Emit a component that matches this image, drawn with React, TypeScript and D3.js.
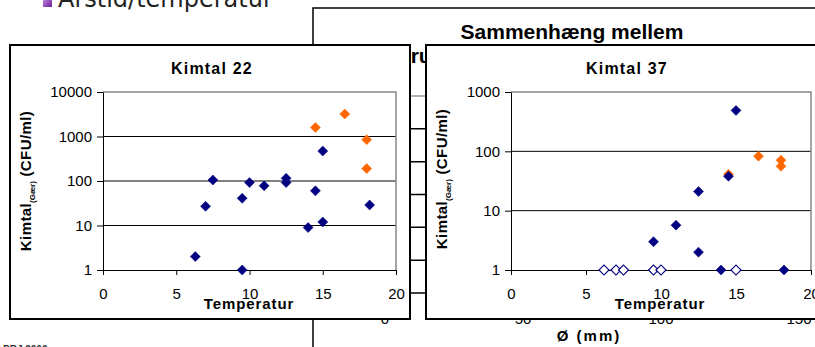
import React, { useEffect, useRef } from 'react';
import * as d3 from 'd3';

// Kimtal 22 (left chart)
const k22BlueTemp = [6.3, 7, 7.5, 9.5, 9.5, 10, 11, 12.5, 12.5, 14, 14.5, 15, 15, 18.2];
const k22BlueCfu = [2, 27, 105, 41, 1, 92, 78, 115, 92, 9, 60, 470, 12, 29];
const k22OrangeTemp = [14.5, 16.5, 18, 18];
const k22OrangeCfu = [1600, 3200, 850, 190];

// Kimtal 37 (right chart)
const k37OpenTemp = [6.2, 7, 7.5, 9.5, 10, 15];
const k37OpenCfu = [1, 1, 1, 1, 1, 1];
const k37OrangeTemp = [14.5, 16.5, 18, 18];
const k37OrangeCfu = [41, 83, 71, 56];
const k37BlueTemp = [9.5, 11, 12.5, 12.5, 14, 14.5, 15, 18.2];
const k37BlueCfu = [3, 5.7, 2, 21, 1, 38, 490, 1];

const tempTicks = [0, 5, 10, 15, 20];
const k22Ticks = [1, 10, 100, 1000, 10000];
const k37Ticks = [1, 10, 100, 1000];

// chart lying behind the two front charts
const bgXTicks = [0, 50, 100, 150];
const bgGrid = [0, 1, 2, 3, 4, 5, 6];

const NAVY = '#000080';
const ORANGE = '#ff6600';
const FONT = '"Liberation Sans", Arial, sans-serif';

interface Series { xs: number[]; ys: number[]; fill: string; }

const App: React.FC = () => {
  const svgRef = useRef<SVGSVGElement>(null);

  useEffect(() => {
    if (!svgRef.current) return;
    const svg = d3.select(svgRef.current);
    svg.selectAll('*').remove();

    const defs = svg.append('defs');
    const grad = defs.append('linearGradient').attr('id', 'bullet').attr('x1', 0).attr('y1', 0).attr('x2', 1).attr('y2', 1);
    grad.append('stop').attr('offset', '0%').attr('stop-color', '#c58ee0');
    grad.append('stop').attr('offset', '100%').attr('stop-color', '#6a1b9a');

    // slide heading, cut at the top
    svg.append('rect').attr('x', 43).attr('y', -2).attr('width', 9).attr('height', 9).attr('fill', 'url(#bullet)');
    svg.append('text')
      .attr('x', 58).attr('y', 7)
      .attr('font-family', '"DejaVu Sans", Verdana, sans-serif')
      .attr('font-size', 24).attr('fill', '#222')
      .text('Årstid/temperatur');

    // background chart
    svg.append('rect').attr('x', 313).attr('y', 8).attr('width', 540).attr('height', 360)
      .attr('fill', '#fff').attr('stroke', '#000').attr('stroke-width', 1.5);
    svg.append('text').attr('x', 572).attr('y', 39).attr('text-anchor', 'middle')
      .attr('font-family', FONT).attr('font-weight', 'bold').attr('font-size', 21)
      .text('Sammenhæng mellem');
    svg.append('text').attr('x', 245).attr('y', 63)
      .attr('font-family', FONT).attr('font-weight', 'bold').attr('font-size', 21)
      .text('temperatur og struktur');

    const bgX = d3.scaleLinear().domain([0, 150]).range([385, 799]);
    const bgY = d3.scaleLinear().domain([0, 6]).range([293, 96]);
    svg.append('g').selectAll('line').data(bgGrid).enter().append('line')
      .attr('x1', 385).attr('x2', 815)
      .attr('y1', (d: number) => bgY(d)).attr('y2', (d: number) => bgY(d))
      .attr('stroke', (d: number) => (d === 6 ? '#999' : '#000'))
      .attr('stroke-width', 1.5);
    svg.append('g').selectAll('text').data(bgXTicks).enter().append('text')
      .attr('x', (d: number) => bgX(d)).attr('y', 324).attr('text-anchor', 'middle')
      .attr('font-family', FONT).attr('font-size', 15)
      .text((d: number) => String(d));
    svg.append('text').attr('x', 589).attr('y', 341).attr('text-anchor', 'middle')
      .attr('font-family', FONT).attr('font-weight', 'bold').attr('font-size', 15)
      .attr('letter-spacing', 2)
      .text('Ø (mm)');

    // footer scrap
    svg.append('text').attr('x', 3).attr('y', 353)
      .attr('font-family', FONT).attr('font-weight', 'bold').attr('font-size', 10).attr('fill', '#333')
      .text('PRJ 2006');

    const diamond = d3.symbol().type(d3.symbolSquare).size(50);

    const drawPanel = (
      box: { x: number; y: number; w: number; h: number },
      plot: { left: number; right: number; top: number; bottom: number },
      title: string, titleX: number,
      yMax: number, yTicks: number[],
      ytitleX: number, ytitleY: number, xtitleX: number,
      series: Series[],
    ) => {
      const g = svg.append('g');
      g.append('rect').attr('x', box.x).attr('y', box.y).attr('width', box.w).attr('height', box.h)
        .attr('fill', '#fff').attr('stroke', '#000').attr('stroke-width', 2);

      const x = d3.scaleLinear().domain([0, 20]).range([plot.left, plot.right]);
      const y = d3.scaleLog().domain([1, yMax]).range([plot.bottom, plot.top]);

      g.append('text').attr('x', titleX).attr('y', 74).attr('text-anchor', 'middle')
        .attr('font-family', FONT).attr('font-weight', 'bold').attr('font-size', 16)
        .attr('letter-spacing', 1.2)
        .text(title);

      // gridlines
      g.append('g').selectAll('line').data(yTicks.filter((t) => t > 1 && t < yMax)).enter().append('line')
        .attr('x1', plot.left).attr('x2', plot.right)
        .attr('y1', (d: number) => y(d)).attr('y2', (d: number) => y(d))
        .attr('stroke', '#000').attr('stroke-width', 1);
      // gray frame top / right
      g.append('path')
        .attr('d', `M${plot.left},${plot.top}H${plot.right}V${plot.bottom}`)
        .attr('fill', 'none').attr('stroke', '#888').attr('stroke-width', 1.5);

      g.append('g')
        .attr('transform', `translate(${plot.left},0)`)
        .call(d3.axisLeft(y).tickValues(yTicks).tickFormat(d3.format('d')).tickSize(6).tickSizeOuter(0).tickPadding(5))
        .call((a: any) => a.selectAll('text').attr('fill', '#000').attr('font-size', 15).attr('font-family', FONT))
        .call((a: any) => a.selectAll('line').attr('stroke', '#000'))
        .call((a: any) => a.select('.domain').attr('stroke', '#000'));

      g.append('g')
        .attr('transform', `translate(0,${plot.bottom})`)
        .call(d3.axisBottom(x).tickValues(tempTicks).tickSize(5).tickSizeOuter(0).tickPadding(13))
        .call((a: any) => a.selectAll('text').attr('fill', '#000').attr('font-size', 15).attr('font-family', FONT))
        .call((a: any) => a.selectAll('line').attr('stroke', '#000'))
        .call((a: any) => a.select('.domain').attr('stroke', '#000'));

      g.append('text').attr('x', xtitleX).attr('y', 309).attr('text-anchor', 'middle')
        .attr('font-family', FONT).attr('font-weight', 'bold').attr('font-size', 15)
        .attr('letter-spacing', 0.9)
        .text('Temperatur');

      const yt = g.append('text')
        .attr('transform', `translate(${ytitleX},${ytitleY}) rotate(-90)`)
        .attr('text-anchor', 'middle')
        .attr('font-family', FONT).attr('font-weight', 'bold').attr('font-size', 15)
        .attr('letter-spacing', 0.4);
      yt.append('tspan').text('Kimtal');
      yt.append('tspan').attr('font-size', 8).attr('letter-spacing', 0).attr('dy', 4).text('(Gær)');
      yt.append('tspan').attr('dy', -4).text(' (CFU/ml)');

      series.forEach((s) => {
        g.append('g').selectAll('path').data(s.xs).enter().append('path')
          .attr('d', diamond() as string)
          .attr('transform', (d: number, i: number) => `translate(${x(d)},${y(s.ys[i])}) rotate(45)`)
          .attr('fill', s.fill)
          .attr('stroke', NAVY === s.fill || s.fill === '#fff' ? NAVY : s.fill)
          .attr('stroke-width', s.fill === '#fff' ? 1.2 : 0.5);
      });
    };

    drawPanel(
      { x: 10, y: 45, w: 400, h: 274 },
      { left: 103, right: 396, top: 92, bottom: 270 },
      'Kimtal 22', 212, 10000, k22Ticks, 31, 181, 249,
      [
        { xs: k22BlueTemp, ys: k22BlueCfu, fill: NAVY },
        { xs: k22OrangeTemp, ys: k22OrangeCfu, fill: ORANGE },
      ],
    );

    drawPanel(
      { x: 426, y: 45, w: 420, h: 274 },
      { left: 511, right: 811, top: 92, bottom: 270 },
      'Kimtal 37', 627, 1000, k37Ticks, 447, 179, 660,
      [
        { xs: k37OpenTemp, ys: k37OpenCfu, fill: '#fff' },
        { xs: k37OrangeTemp, ys: k37OrangeCfu, fill: ORANGE },
        { xs: k37BlueTemp, ys: k37BlueCfu, fill: NAVY },
      ],
    );
  }, []);

  return (
    <svg
      ref={svgRef}
      width={815}
      height={347}
      style={{ position: 'fixed', left: 0, top: 0, display: 'block', background: '#fff' }}
    />
  );
};

export default App;
